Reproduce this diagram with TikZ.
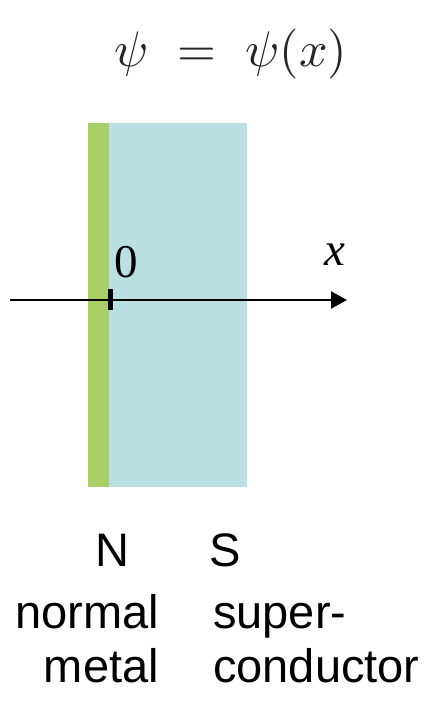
\documentclass[tikz,border=0pt]{standalone}
\usepackage{graphicx}
\usepackage[no-math]{fontspec}
\setmainfont{Liberation Sans}
\newfontfamily\timesfont{Liberation Serif}
\usetikzlibrary{arrows.meta}
\definecolor{nmetal}{HTML}{A9D066}
\definecolor{scond}{HTML}{BBE0E3}
\tikzset{
  eq/.style={text=black!85, inner sep=0pt},
  lbl/.style={font=\fontsize{47}{54}\selectfont, inner sep=0pt},
  axlbl/.style={font=\fontsize{47}{54}\selectfont\timesfont, inner sep=0pt},
  axis/.style={draw=black, line width=2.2pt, -{Triangle[length=16pt, width=17pt]}},
  tickmark/.style={draw=black, line width=5pt},
}

\begin{document}
\begin{tikzpicture}[x=1pt, y=-1pt]
  \useasboundingbox (0,0) rectangle (443,706);
  \node[eq, anchor=base] (wave) at (231,67) {\scalebox{5}{$\psi\hspace{0.3em}=\hspace{0.3em}\psi(x)$}};
  % slabs
  \fill[scond] (109,123) rectangle (247,487);
  \fill[nmetal] (88,123) rectangle (109,487);
  % x axis
  \coordinate (axstart) at (10,300);
  \coordinate (axend) at (347,300);
  \coordinate (orig) at (110,300);
  \draw[axis] (axstart) -- (axend);
  \draw[tickmark] (orig) ++(0,-11) -- ++(0,21);
  \node[axlbl, anchor=base] (zero) at (126.5,277) {0};
  \node[axlbl, anchor=base] (xlbl) at (335,265) {\itshape x};
  % labels
  \node[lbl, anchor=base] (nlbl) at (112,566) {N};
  \node[lbl, anchor=base] (slbl) at (225,566) {S};
  \node[lbl, anchor=base east, align=right] (ntext) at (159,682) {normal\\metal};
  \node[lbl, anchor=base west, align=left] (stext) at (213,682) {super-\\conductor};
\end{tikzpicture}
\end{document}
